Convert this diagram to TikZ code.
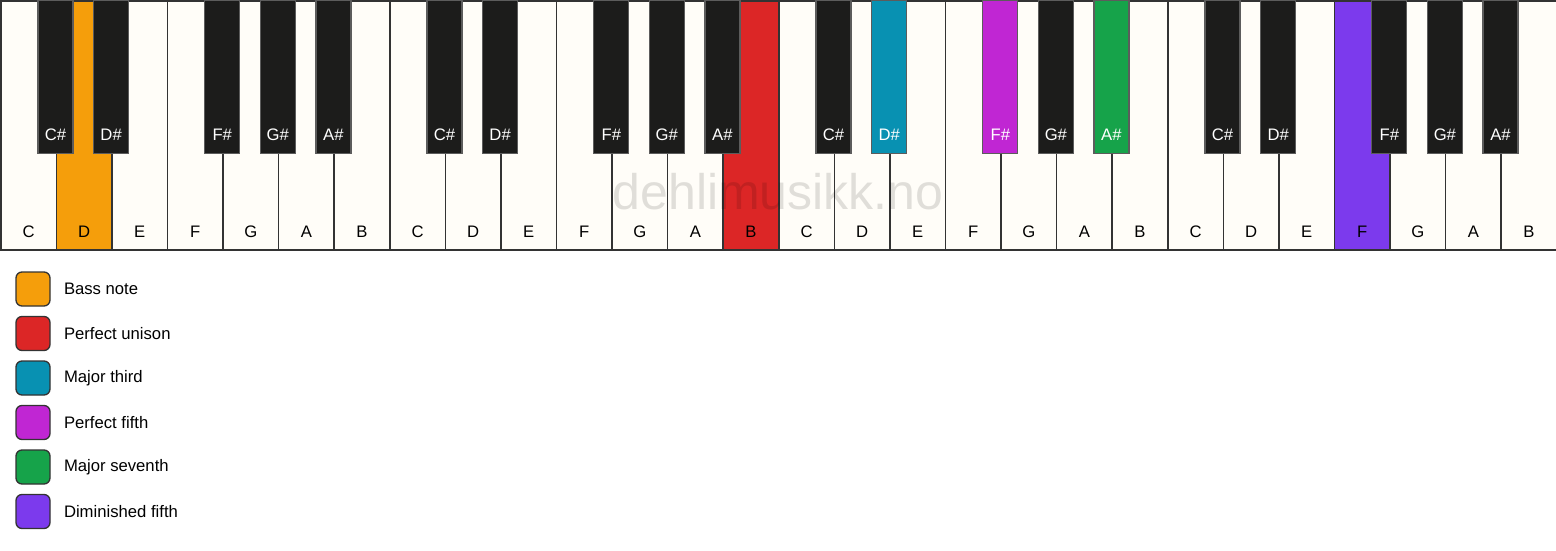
\documentclass[tikz,border=0pt]{standalone}
\usepackage{fontspec}
\setmainfont{Liberation Sans}
\usetikzlibrary{positioning}

\definecolor{ivory}{HTML}{FFFDF8}
\definecolor{ebony}{HTML}{1C1C1B}
\definecolor{keyline}{HTML}{333333}
\definecolor{bassnote}{HTML}{F59E0B}
\definecolor{unison}{HTML}{DC2626}
\definecolor{majthird}{HTML}{0891B2}
\definecolor{perffifth}{HTML}{C026D3}
\definecolor{majseventh}{HTML}{16A34A}
\definecolor{dimfifth}{HTML}{7C3AED}

\tikzset{
  whitekey/.style={draw=keyline,line width=1.2pt,fill=ivory,anchor=north west,
    inner sep=0pt,minimum width=41.68pt,minimum height=186.75pt},
  blackkey/.style={draw=keyline!80,line width=1pt,fill=ebony,anchor=north,
    inner sep=0pt,minimum width=26.25pt,minimum height=114.75pt},
  keyname/.style={font=\fontsize{12.5}{14}\selectfont,inner sep=0pt},
  swatch/.style={draw=keyline,line width=1pt,rounded corners=4.5pt,
    minimum size=25.5pt,inner sep=0pt},
  legendtext/.style={font=\fontsize{12.5}{14}\selectfont,inner sep=0pt,anchor=west},
  % highlighted keys
  wk1/.style={fill=bassnote},
  wk13/.style={fill=unison},
  wk24/.style={fill=dimfifth},
  bk16/.style={fill=majthird},
  bk18/.style={fill=perffifth},
  bk20/.style={fill=majseventh},
}

\begin{document}
\begin{tikzpicture}[x=0.75pt,y=-0.75pt]
\useasboundingbox (0,0) rectangle (1556,550);

% white keys
\foreach \o in {0,...,3}
  \foreach \n [count=\k from 0] in {C,D,E,F,G,A,B} {
    \pgfmathtruncatemacro{\i}{7*\o+\k}
    \node [whitekey,wk\i/.try] (wkey\i) at ({\i*55.5714},0) {};
    \node [keyname] (wname\i) at ([yshift=14.25pt]wkey\i.south) {\n};
  }

% black keys
\foreach \o in {0,...,3}
  \foreach \j/\n in {1/C\#,2/D\#,4/F\#,5/G\#,6/A\#} {
    \pgfmathtruncatemacro{\b}{7*\o+\j}
    \node [blackkey,bk\b/.try] (bkey\b) at ({\b*55.5714},0) {};
    \node [keyname,text=white] (bname\b) at ([yshift=15pt]bkey\b.south) {\n};
  }

\node [font=\fontsize{37.5}{40}\selectfont,text=black,text opacity=0.12]
  (watermark) at (778,192) {dehlimusikk.no};

% legend
\node [swatch,fill=bassnote]   (sw1) at (33,289)   {};
\node [swatch,fill=unison]     (sw2) at (33,333.5) {};
\node [swatch,fill=majthird]   (sw3) at (33,378)   {};
\node [swatch,fill=perffifth]  (sw4) at (33,422.5) {};
\node [swatch,fill=majseventh] (sw5) at (33,467)   {};
\node [swatch,fill=dimfifth]   (sw6) at (33,511.5) {};

\node [legendtext,right=9.8pt of sw1] (lg1) {Bass note};
\node [legendtext,right=9.8pt of sw2] (lg2) {Perfect unison};
\node [legendtext,right=9.8pt of sw3] (lg3) {Major third};
\node [legendtext,right=9.8pt of sw4] (lg4) {Perfect fifth};
\node [legendtext,right=9.8pt of sw5] (lg5) {Major seventh};
\node [legendtext,right=9.8pt of sw6] (lg6) {Diminished fifth};
\end{tikzpicture}
\end{document}
